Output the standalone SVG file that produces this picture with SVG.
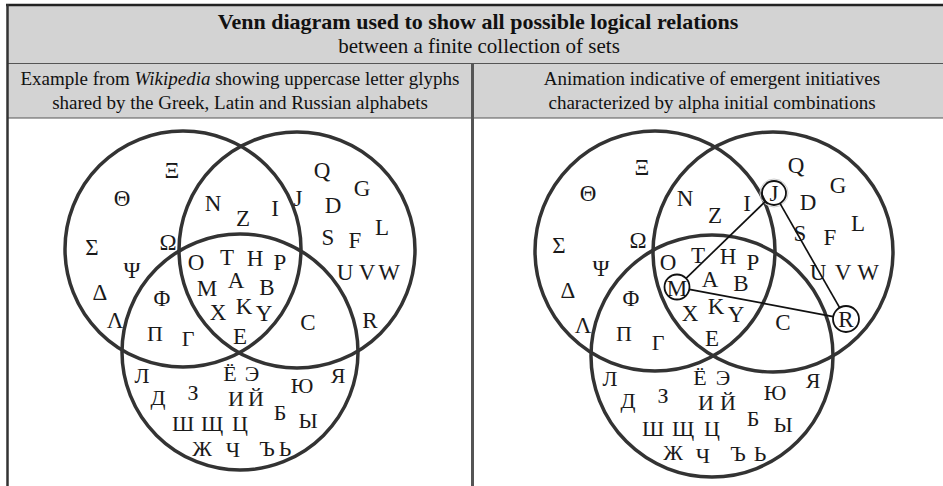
<svg xmlns="http://www.w3.org/2000/svg" width="943" height="486" viewBox="0 0 943 486">
<style>
.hd{fill:#d3d3d3}
.t{font-family:'Liberation Serif','Times New Roman',Times,'DejaVu Serif',serif;fill:#111;text-anchor:middle}
.tb{font-weight:bold;font-size:22px}
.tm{font-size:21px}
.ts{font-size:19px}
.set{fill:none;stroke:#333;stroke-width:3.5}
.lt{font-family:'Liberation Serif','Times New Roman',Times,'DejaVu Serif',serif;font-size:23px;fill:#1a1a1a;text-anchor:middle;dominant-baseline:central}
.cy{font-size:22px}
.ring{fill:none;stroke:#111;stroke-width:1.8}
.con{stroke:#111;stroke-width:1.7;fill:none}
</style>
<rect x="0" y="0" width="943" height="486" fill="#fff"/>
<g id="header">
<rect class="hd" x="7" y="5" width="936" height="113"/>
<line x1="7" y1="63.5" x2="943" y2="63.5" stroke="#555" stroke-width="1"/>
<line x1="7" y1="118" x2="943" y2="118" stroke="#555" stroke-width="1"/>
<line x1="6" y1="5" x2="943" y2="5" stroke="#222" stroke-width="2.5"/>
<line x1="7.5" y1="4" x2="7.5" y2="486" stroke="#333" stroke-width="2.5"/>
<line x1="472.5" y1="63" x2="472.5" y2="486" stroke="#555" stroke-width="3"/>
<text class="t tb" x="478" y="29">Venn diagram used to show all possible logical relations</text>
<text class="t tm" x="479" y="53">between a finite collection of sets</text>
<text class="t ts" x="240" y="85">Example from <tspan font-style="italic">Wikipedia</tspan> showing uppercase letter glyphs</text>
<text class="t ts" x="240" y="109">shared by the Greek, Latin and Russian alphabets</text>
<text class="t ts" x="712" y="85">Animation indicative of emergent initiatives</text>
<text class="t ts" x="712" y="109">characterized by alpha initial combinations</text>
</g>
<g id="left-venn">
<g id="L-greek"><circle class="set" cx="183" cy="249" r="118"/></g>
<g id="L-latin"><circle class="set" cx="297" cy="250" r="118"/></g>
<g id="L-russian"><circle class="set" cx="240" cy="352" r="118"/></g>
<g id="L-letters">
<text class="lt" x="172" y="170">Ξ</text>
<text class="lt" x="122" y="198">Θ</text>
<text class="lt" x="213" y="203">N</text>
<text class="lt" x="243" y="218">Z</text>
<text class="lt" x="275" y="208">I</text>
<text class="lt" x="298" y="198">J</text>
<text class="lt" x="322" y="170">Q</text>
<text class="lt" x="362" y="188">G</text>
<text class="lt" x="333" y="205">D</text>
<text class="lt" x="382" y="227">L</text>
<text class="lt" x="328" y="237">S</text>
<text class="lt" x="355" y="240">F</text>
<text class="lt" x="92" y="247">Σ</text>
<text class="lt" x="168" y="242">Ω</text>
<text class="lt" x="132" y="270">Ψ</text>
<text class="lt" x="196" y="262">O</text>
<text class="lt" x="227" y="257">T</text>
<text class="lt" x="255" y="258">H</text>
<text class="lt" x="280" y="262">P</text>
<text class="lt" x="345" y="272">U</text>
<text class="lt" x="367" y="272">V</text>
<text class="lt" x="389" y="272">W</text>
<text class="lt" x="100" y="292">Δ</text>
<text class="lt" x="236" y="280">A</text>
<text class="lt" x="207" y="288">M</text>
<text class="lt" x="267" y="287">B</text>
<text class="lt" x="162" y="298">Φ</text>
<text class="lt" x="244" y="306">K</text>
<text class="lt" x="218" y="312">X</text>
<text class="lt" x="264" y="313">Y</text>
<text class="lt" x="308" y="322">C</text>
<text class="lt" x="370" y="320">R</text>
<text class="lt" x="115" y="320">Λ</text>
<text class="lt cy" x="155" y="333">П</text>
<text class="lt cy" x="188" y="338">Г</text>
<text class="lt" x="240" y="336">E</text>
<text class="lt cy" x="142" y="375">Л</text>
<text class="lt cy" x="230" y="373">Ё</text>
<text class="lt cy" x="252" y="373">Э</text>
<text class="lt cy" x="338" y="375">Я</text>
<text class="lt cy" x="302" y="385">Ю</text>
<text class="lt cy" x="158" y="397">Д</text>
<text class="lt cy" x="193" y="392">З</text>
<text class="lt cy" x="236" y="398">И</text>
<text class="lt cy" x="256" y="398">Й</text>
<text class="lt cy" x="280" y="412">Б</text>
<text class="lt cy" x="308" y="420">Ы</text>
<text class="lt cy" x="183" y="423">Ш</text>
<text class="lt cy" x="212" y="423">Щ</text>
<text class="lt cy" x="240" y="423">Ц</text>
<text class="lt cy" x="202" y="448">Ж</text>
<text class="lt cy" x="233" y="449">Ч</text>
<text class="lt cy" x="267" y="448">Ъ</text>
<text class="lt cy" x="285" y="448">Ь</text>
</g>
</g>
<g id="right-venn">
<g id="R-greek"><circle class="set" cx="655" cy="251" r="120"/></g>
<g id="R-latin"><circle class="set" cx="773" cy="252" r="120"/></g>
<g id="R-russian"><circle class="set" cx="712" cy="356" r="121"/></g>
<g id="R-letters">
<text class="lt" x="642" y="167">Ξ</text>
<text class="lt" x="588" y="193">Θ</text>
<text class="lt" x="685" y="198">N</text>
<text class="lt" x="715" y="215">Z</text>
<text class="lt" x="747" y="203">I</text>
<text class="lt" x="796" y="165">Q</text>
<text class="lt" x="838" y="185">G</text>
<text class="lt" x="808" y="202">D</text>
<text class="lt" x="858" y="223">L</text>
<text class="lt" x="800" y="233">S</text>
<text class="lt" x="830" y="237">F</text>
<text class="lt" x="559" y="245">Σ</text>
<text class="lt" x="638" y="240">Ω</text>
<text class="lt" x="601" y="268">Ψ</text>
<text class="lt" x="668" y="262">O</text>
<text class="lt" x="698" y="255">T</text>
<text class="lt" x="728" y="256">H</text>
<text class="lt" x="753" y="262">P</text>
<text class="lt" x="818" y="272">U</text>
<text class="lt" x="843" y="272">V</text>
<text class="lt" x="868" y="272">W</text>
<text class="lt" x="568" y="290">Δ</text>
<text class="lt" x="710" y="279">A</text>
<text class="lt" x="741" y="283">B</text>
<text class="lt" x="631" y="298">Φ</text>
<text class="lt" x="716" y="306">K</text>
<text class="lt" x="690" y="313">X</text>
<text class="lt" x="736" y="314">Y</text>
<text class="lt" x="783" y="322">C</text>
<text class="lt" x="583" y="325">Λ</text>
<text class="lt cy" x="624" y="333">П</text>
<text class="lt cy" x="658" y="342">Г</text>
<text class="lt" x="712" y="338">E</text>
<text class="lt cy" x="610" y="378">Л</text>
<text class="lt cy" x="700" y="377">Ё</text>
<text class="lt cy" x="723" y="377">Э</text>
<text class="lt cy" x="813" y="380">Я</text>
<text class="lt cy" x="775" y="392">Ю</text>
<text class="lt cy" x="628" y="400">Д</text>
<text class="lt cy" x="663" y="395">З</text>
<text class="lt cy" x="706" y="402">И</text>
<text class="lt cy" x="728" y="402">Й</text>
<text class="lt cy" x="753" y="418">Б</text>
<text class="lt cy" x="783" y="424">Ы</text>
<text class="lt cy" x="653" y="428">Ш</text>
<text class="lt cy" x="683" y="428">Щ</text>
<text class="lt cy" x="712" y="428">Ц</text>
<text class="lt cy" x="673" y="452">Ж</text>
<text class="lt cy" x="703" y="455">Ч</text>
<text class="lt cy" x="738" y="453">Ъ</text>
<text class="lt cy" x="760" y="453">Ь</text>
</g>
<g id="node-J"><circle cx="774" cy="193" r="14" fill="none" stroke="#ccc" stroke-width="1"/><circle class="ring" cx="774" cy="193" r="12"/><text class="lt" x="774" y="193">J</text></g>
<g id="node-M"><circle class="ring" cx="677" cy="287" r="12.5"/><text class="lt" x="677" y="288">M</text></g>
<g id="node-R"><circle class="ring" cx="846" cy="319" r="13"/><text class="lt" x="846" y="319">R</text></g>
<g id="connectors">
<line class="con" x1="765.4" y1="201.4" x2="686" y2="278.3"/>
<line class="con" x1="780" y1="203.4" x2="839.6" y2="307.7"/>
<line class="con" x1="689.3" y1="289.3" x2="833.2" y2="316.6"/>
</g>
</g>
</svg>
